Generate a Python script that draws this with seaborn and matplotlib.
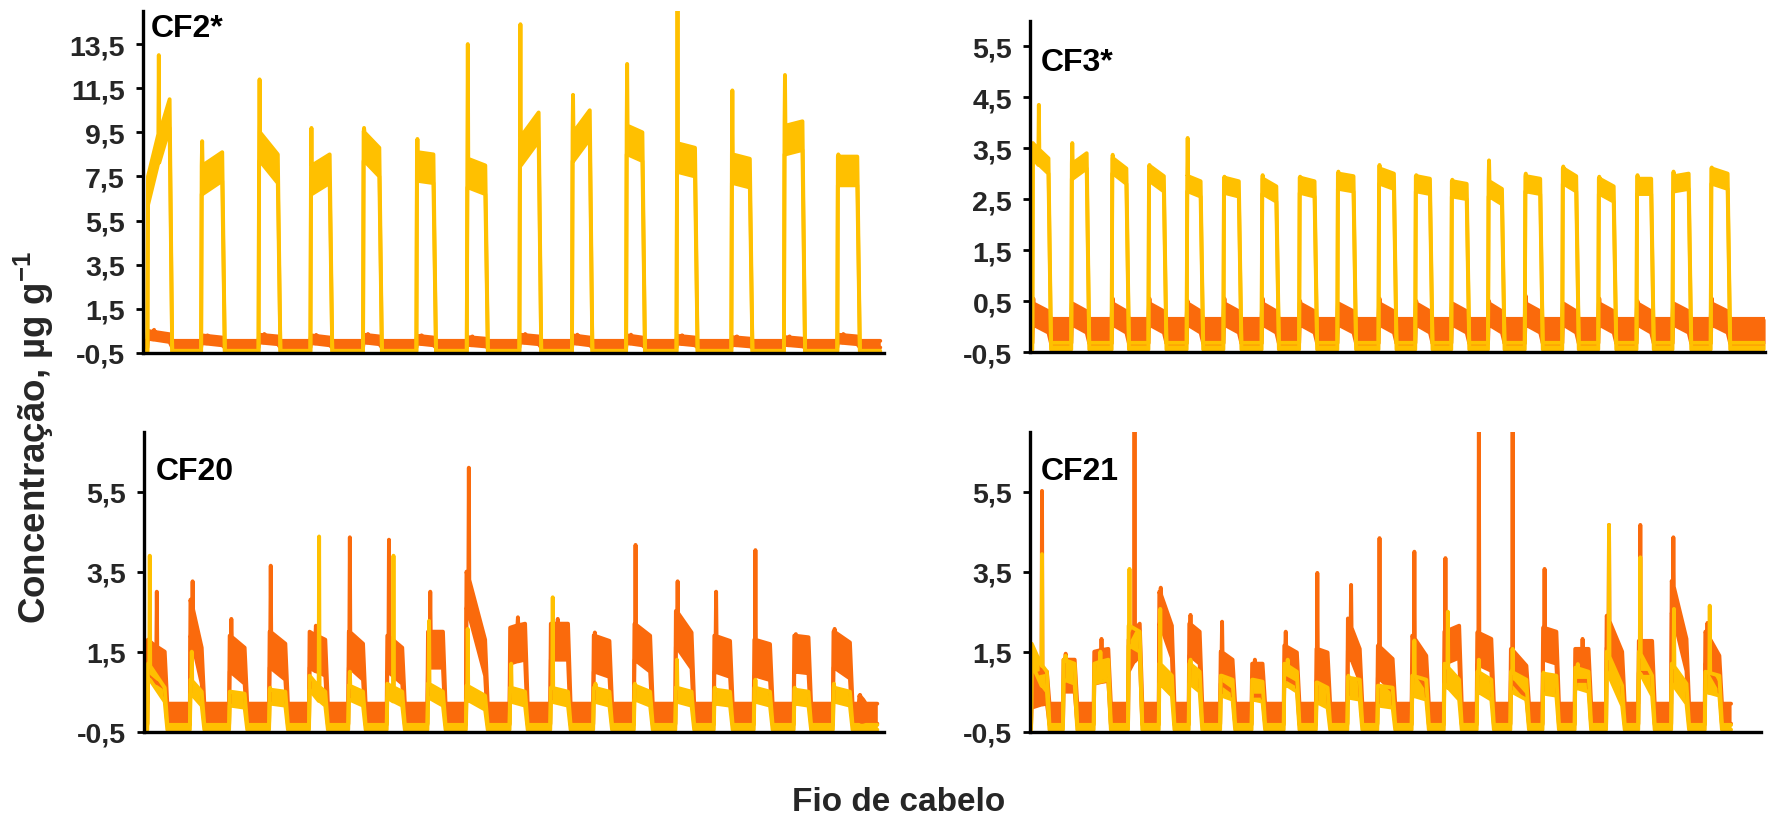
import matplotlib
matplotlib.use("Agg")
import matplotlib.pyplot as plt
import seaborn as sns

# ---------------------------------------------------------------------------
# Signal traces along each hair strand (x: position along the scan, 0-100).
# Each pulse = one hair segment: start/end, spike height, spike position
# within the pulse (fraction), plateau level at start and at end.
# ---------------------------------------------------------------------------

# ---- CF2* ----
cf2_start = [0.6, 7.85, 15.6, 22.6, 29.7, 36.9, 43.7, 50.8, 57.9, 65.2, 72.0, 79.4, 86.5, 93.7]
cf2_end   = [3.6, 10.7, 18.2, 25.2, 31.9, 39.2, 46.2, 53.4, 60.3, 67.4, 74.5, 81.9, 89.0, 96.4]
cf2_y_spike = [13.0, 9.1, 11.9, 9.7, 9.7, 9.2, 13.5, 14.4, 11.2, 12.6, 15.5, 11.4, 12.1, 8.5]
cf2_y_at    = [0.55, 0.0, 0.0, 0.0, 0.0, 0.0, 0.0, 0.0, 0.0, 0.0, 0.0, 0.0, 0.0, 0.0]
cf2_y_top   = [7.5, 8.0, 9.5, 8.0, 9.5, 8.6, 8.3, 9.3, 9.5, 9.8, 9.0, 8.5, 9.8, 8.4]
cf2_y_tail  = [11.0, 8.6, 8.5, 8.5, 8.8, 8.5, 8.0, 10.4, 10.5, 9.5, 8.8, 8.3, 10.0, 8.4]
cf2_o_spike = [0.55, 0.3, 0.36, 0.32, 0.36, 0.3, 0.25, 0.36, 0.33, 0.33, 0.3, 0.25, 0.25, 0.36]
cf2_o_at    = [0.3] * 14
cf2_o_top   = [0.5, 0.3, 0.33, 0.3, 0.33, 0.28, 0.22, 0.33, 0.3, 0.3, 0.28, 0.22, 0.22, 0.33]
cf2_o_tail  = [0.35, 0.2, 0.25, 0.2, 0.25, 0.2, 0.15, 0.25, 0.2, 0.2, 0.2, 0.15, 0.15, 0.25]
cf2_end_x = 99.5

# ---- CF3* ----
cf3_start = [0.3, 5.6, 11.1, 16.1, 21.3, 26.3, 31.5, 36.6, 41.8, 47.4, 52.4, 57.3, 62.3, 67.3,
             72.4, 77.3, 82.5, 87.4, 92.6]
cf3_end   = [2.5, 7.7, 13.1, 18.2, 23.2, 28.4, 33.5, 38.7, 44.0, 49.5, 54.4, 59.4, 64.2, 69.4,
             74.3, 79.4, 84.5, 89.6, 94.9]
cf3_y_spike = [4.35, 3.6, 3.37, 3.17, 3.7, 2.94, 2.97, 2.94, 3.04, 3.17, 2.97, 2.88, 3.26, 3.0,
               3.14, 2.94, 2.97, 3.04, 3.12]
cf3_y_at    = [0.43] + [0.0] * 18
cf3_y_top   = [3.6, 3.2, 3.3, 3.15, 2.95, 2.92, 2.9, 2.92, 3.0, 3.1, 2.95, 2.85, 2.85, 2.95,
               3.1, 2.9, 2.9, 2.95, 3.1]
cf3_y_tail  = [3.3, 3.4, 3.1, 2.95, 2.85, 2.85, 2.75, 2.85, 2.95, 3.0, 2.9, 2.8, 2.7, 2.9,
               2.95, 2.75, 2.9, 3.0, 3.0]
cf3_o_spike = [0.55, 0.45, 0.55, 0.55, 0.5, 0.55, 0.55, 0.5, 0.45, 0.55, 0.5, 0.45, 0.5, 0.6,
               0.45, 0.55, 0.5, 0.45, 0.55]
cf3_o_at    = [0.0] * 19
cf3_o_top   = [0.45] * 19
cf3_o_tail  = [0.3] * 19
cf3_end_x = 100.0

# ---- CF20 ----
cf20_start = [0.45, 6.2, 11.5, 16.9, 22.3, 27.6, 32.8, 38.3, 43.5, 49.4, 54.9, 60.7, 66.2, 71.8,
              77.0, 82.4, 87.8, 93.1, 96.6]
cf20_end   = [2.8, 7.8, 13.6, 19.1, 24.5, 29.6, 34.9, 40.4, 46.1, 51.5, 57.3, 62.9, 68.4, 74.0,
              79.2, 84.6, 89.8, 95.4, 97.2]
cf20_o_spike = [3.0, 3.26, 2.32, 3.65, 2.15, 4.36, 4.3, 3.0, 6.1, 2.36, 2.32, 1.98, 4.17, 3.26,
                3.0, 4.04, 1.94, 2.07, 0.42]
cf20_o_at    = [0.6, 0.2, 0.1, 0.05, 0.45, 0.05, 0.1, 0.15, 0.12, 0.6, 0.45, 0.05, 0.05, 0.1,
                0.1, 0.05, 0.1, 0.05, 0.2]
cf20_o_top   = [1.8, 2.8, 1.9, 2.0, 2.0, 2.0, 1.9, 2.0, 3.5, 2.1, 2.2, 1.9, 2.19, 2.52,
                1.9, 1.8, 1.9, 2.0, 0.4]
cf20_o_tail  = [1.5, 1.6, 1.6, 1.7, 1.8, 1.7, 1.6, 2.0, 1.8, 2.2, 2.2, 1.77, 1.9, 1.98,
                1.77, 1.69, 1.86, 1.73, 0.3]
cf20_y_spike = [3.9, 1.5, 0.5, 0.6, 4.38, 1.0, 3.9, 2.27, 2.07, 1.2, 2.86, 0.7, 0.7, 1.3,
                0.6, 0.8, 0.6, 0.7, -0.35]
cf20_y_at    = [0.1, 0.1, 0.0, 0.0, 0.7, 0.05, 0.47, 0.05, 0.05, 0.05, 0.1, 0.1, 0.0, 0.05,
                0.0, 0.05, 0.0, 0.0, 0.0]
cf20_y_top   = [1.2, 0.8, 0.5, 0.55, 0.9, 0.65, 0.7, 0.7, 0.65, 0.6, 0.6, 0.6, 0.65, 0.6,
                0.55, 0.6, 0.55, 0.6, -0.35]
cf20_y_tail  = [0.6, 0.5, 0.45, 0.5, 0.5, 0.5, 0.5, 0.5, 0.4, 0.5, 0.5, 0.5, 0.5, 0.5,
                0.5, 0.5, 0.5, 0.5, -0.35]
cf20_end_x = 99.1

# ---- CF21 ----
cf21_start = [0.14, 4.5, 8.7, 13.4, 17.6, 21.7, 26.0, 30.3, 34.7, 39.1, 43.4, 47.5, 52.2, 56.6,
              61.1, 65.7, 70.1, 74.5, 78.8, 83.2, 87.7, 92.3]
cf21_end   = [2.3, 6.1, 10.7, 15.0, 19.4, 23.2, 27.7, 31.8, 36.5, 40.7, 45.1, 49.6, 54.2, 58.7,
              63.1, 67.9, 72.0, 76.4, 81.0, 85.1, 89.8, 94.3]
cf21_o_spike = [5.52, 1.45, 1.82, 7.5, 3.1, 2.42, 2.25, 1.3, 2.0, 3.47, 3.17, 4.34, 4.0, 3.84,
                7.5, 7.5, 3.57, 1.82, 4.67, 4.67, 4.36, 2.22]
cf21_o_at    = [0.79, 0.2, 0.6, 0.65, 0.1, 0.1, 0.1, 0.3, 0.1, 0.05, 0.3, 0.1, 0.15, 0.05,
                0.1, 0.1, 0.1, 0.65, 0.15, 0.1, 0.1, 0.15]
cf21_o_top   = [0.9, 1.3, 1.5, 1.8, 3.0, 2.2, 1.5, 1.2, 1.65, 1.57, 2.33, 1.65, 1.9, 2.0,
                1.98, 1.57, 2.1, 1.57, 2.4, 1.77, 3.27, 2.0]
cf21_o_tail  = [1.0, 1.3, 1.57, 2.2, 2.15, 2.0, 1.3, 1.2, 1.48, 1.48, 1.57, 1.32, 1.4, 2.15,
                1.82, 1.15, 2.0, 1.57, 1.5, 1.77, 1.82, 1.4]
cf21_y_spike = [3.94, 1.4, 1.5, 3.57, 2.57, 1.3, 0.9, 0.8, 1.3, 0.73, 0.9, 0.65, 1.78, 2.5,
                1.3, 1.57, 0.98, 1.19, 4.67, 3.86, 2.57, 2.65]
cf21_y_at    = [0.79, 0.2, 0.5, 0.05, 0.05, 0.1, 0.0, 0.0, 0.3, 0.0, 0.0, 0.0, 0.15, 0.25,
                0.1, 0.1, 0.0, 0.2, 0.15, 0.1, 0.15, 0.35]
cf21_y_top   = [1.7, 1.3, 1.2, 2.15, 1.2, 1.2, 0.9, 0.8, 1.2, 0.73, 0.85, 0.65, 0.9, 1.2,
                1.0, 1.0, 0.95, 1.1, 1.5, 1.5, 1.2, 1.0]
cf21_y_tail  = [1.0, 1.2, 1.3, 2.0, 0.9, 1.0, 0.8, 0.75, 1.0, 0.6, 0.8, 0.6, 0.8, 0.8,
                0.8, 0.8, 0.9, 1.0, 0.65, 0.9, 0.7, 0.9]
cf21_end_x = 95.9

# Axis ranges and tick labels
cf2_yticks = [-0.5, 1.5, 3.5, 5.5, 7.5, 9.5, 11.5, 13.5]
cf3_yticks = [-0.5, 0.5, 1.5, 2.5, 3.5, 4.5, 5.5]
cf20_yticks = [-0.5, 1.5, 3.5, 5.5]
cf21_yticks = [-0.5, 1.5, 3.5, 5.5]
cf2_ylim, cf3_ylim, cf20_ylim, cf21_ylim = (-0.5, 15.0), (-0.5, 6.0), (-0.5, 7.0), (-0.5, 7.0)

ORANGE = "#FA6A0C"
GOLD = "#FFC000"


def build_trace(starts, ends, spike, spike_at, top, tail, band, gap_lo, gap_hi, x_end):
    """Lower/upper envelope of a noisy pulse train built from per-pulse levels."""
    xs, lo, hi = [0.0], [gap_lo], [gap_hi]
    for s, e, pk, f, a, b in zip(starts, ends, spike, spike_at, top, tail):
        w = e - s
        xs += [s]; lo += [gap_lo]; hi += [gap_hi]
        xs += [s + 0.08]; lo += [max(a - band, gap_lo)]; hi += [a]
        xp = s + 0.14 + f * max(w - 0.45, 0.0)
        base = a + (b - a) * f
        xs += [xp - 0.06, xp, xp + 0.06]
        hi += [base, pk, base]
        lo += [max(base - band, gap_lo)] * 3
        xs += [e]; lo += [max(b - band, gap_lo)]; hi += [b]
        xs += [e + 0.35]; lo += [gap_lo]; hi += [gap_hi]
    xs += [x_end]; lo += [gap_lo]; hi += [gap_hi]
    return xs, lo, hi


sns.set_theme(style="white")
plt.rcParams["font.family"] = ["Liberation Sans", "DejaVu Sans"]
plt.rcParams["font.weight"] = "bold"
plt.rcParams["mathtext.fontset"] = "custom"
plt.rcParams["mathtext.rm"] = "Liberation Sans:bold"
plt.rcParams["mathtext.bf"] = "Liberation Sans:bold"

fig = plt.figure(figsize=(17.69, 8.2), dpi=100)

panels = [
    dict(rect=[0.0808, 0.5683, 0.4189, 0.4171], title="CF2*", ty=0.995, tx=0.010,
         ylim=cf2_ylim, yticks=cf2_yticks,
         orange=(cf2_start, cf2_end, cf2_o_spike, cf2_o_at, cf2_o_top, cf2_o_tail, 0.35, -0.25, 0.05, cf2_end_x),
         gold=(cf2_start, cf2_end, cf2_y_spike, cf2_y_at, cf2_y_top, cf2_y_tail, 1.3, -0.47, -0.4, cf2_end_x)),
    dict(rect=[0.5823, 0.5695, 0.4155, 0.4040], title="CF3*", ty=0.92, tx=0.015,
         ylim=cf3_ylim, yticks=cf3_yticks,
         orange=(cf3_start, cf3_end, cf3_o_spike, cf3_o_at, cf3_o_top, cf3_o_tail, 0.42, -0.33, 0.15, cf3_end_x),
         gold=(cf3_start, cf3_end, cf3_y_spike, cf3_y_at, cf3_y_top, cf3_y_tail, 0.3, -0.45, -0.32, cf3_end_x)),
    dict(rect=[0.0814, 0.1065, 0.4183, 0.3658], title="CF20", ty=0.92, tx=0.016,
         ylim=cf20_ylim, yticks=cf20_yticks,
         orange=(cf20_start, cf20_end, cf20_o_spike, cf20_o_at, cf20_o_top, cf20_o_tail, 0.9, -0.3, 0.2, cf20_end_x),
         gold=(cf20_start, cf20_end, cf20_y_spike, cf20_y_at, cf20_y_top, cf20_y_tail, 0.35, -0.45, -0.33, cf20_end_x)),
    dict(rect=[0.5823, 0.1065, 0.4132, 0.3658], title="CF21", ty=0.92, tx=0.015,
         ylim=cf21_ylim, yticks=cf21_yticks,
         orange=(cf21_start, cf21_end, cf21_o_spike, cf21_o_at, cf21_o_top, cf21_o_tail, 0.8, -0.3, 0.2, cf21_end_x),
         gold=(cf21_start, cf21_end, cf21_y_spike, cf21_y_at, cf21_y_top, cf21_y_tail, 0.5, -0.45, -0.33, cf21_end_x)),
]

for p in panels:
    ax = fig.add_axes(p["rect"])
    for key, color in (("orange", ORANGE), ("gold", GOLD)):
        xs, lo, hi = build_trace(*p[key])
        ax.fill_between(xs, lo, hi, color=color, lw=0)
        for ys in (lo, hi):
            sns.lineplot(x=xs, y=ys, ax=ax, color=color, lw=2.8, estimator=None,
                         sort=False, solid_joinstyle="round", solid_capstyle="round")
    ax.set_xlim(0, 100)
    ax.set_ylim(*p["ylim"])
    ax.set_xticks([])
    ax.set_yticks(p["yticks"])
    ax.set_yticklabels([f"{v:.1f}".replace(".", ",") for v in p["yticks"]],
                       fontsize=20.5, fontweight="bold")
    ax.tick_params(axis="y", direction="out", length=5, width=2, color="black",
                   pad=8, left=True)
    for side in ("top", "right"):
        ax.spines[side].set_visible(False)
    for side in ("left", "bottom"):
        ax.spines[side].set_color("black")
        ax.spines[side].set_linewidth(2.4)
    ax.set_xlabel("")
    ax.set_ylabel("")
    ax.text(p["tx"], p["ty"], p["title"], transform=ax.transAxes, ha="left", va="top",
            fontsize=23, fontweight="bold", color="black")

fig.text(0.019, 0.466, "Concentração, µg g$^{-1}$", rotation=90, ha="center", va="center",
         fontsize=26.5, fontweight="bold")
fig.text(0.508, 0.021, "Fio de cabelo", ha="center", va="center", fontsize=24,
         fontweight="bold")

fig.savefig("out.png", dpi=100)
